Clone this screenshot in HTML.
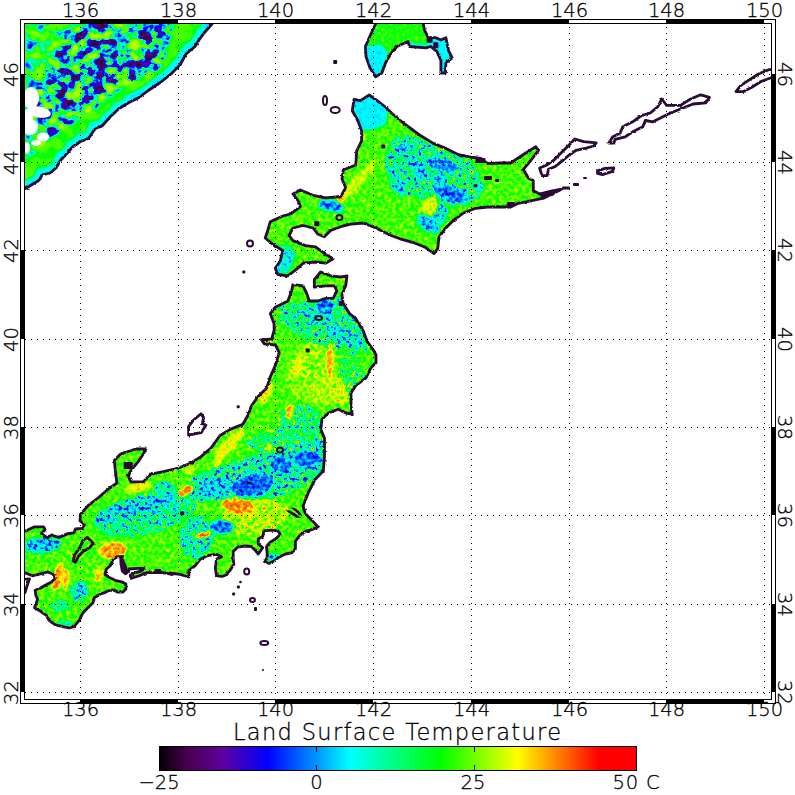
<!DOCTYPE html>
<html lang="en"><head><meta charset="utf-8"><title>Land Surface Temperature</title>
<style>
html,body{margin:0;padding:0;background:#fff;}
body{width:795px;height:795px;overflow:hidden;}
svg{display:block;}
text{font-family:"DejaVu Sans Light","DejaVu Sans","Liberation Sans",sans-serif;font-weight:200;fill:#000;stroke:#000;stroke-width:0.3px;}
</style></head><body>
<svg width="795" height="795" viewBox="0 0 795 795">
<defs>
<clipPath id="mapclip"><rect x="25" y="24" width="746" height="675"/></clipPath>
<clipPath id="land">
<polygon points="375.5,20.0 375.5,24.0 370.4,35.0 365.4,46.5 366.0,56.6 370.0,68.0 375.5,76.7 381.8,73.0 385.5,63.0 390.6,54.0 396.9,46.5 408.2,41.5 409.4,46.5 425.8,47.8 430.8,46.5 437.0,51.6 440.9,60.4 440.9,73.0 445.4,73.0 445.9,63.0 452.2,57.9 448.4,50.3 445.9,37.7 440.9,40.0 435.8,37.7 428.3,37.7 424.5,30.0 423.3,24.0 423.3,20.0"/>
<polygon points="354.0,99.4 360.4,100.6 369.2,95.0 375.5,99.4 385.5,107.0 391.8,113.2 400.6,120.8 410.7,128.3 420.8,135.8 433.3,143.4 445.9,148.4 458.5,154.7 471.0,157.2 481.1,158.5 487.4,163.5 500.6,163.0 510.7,163.0 518.2,158.0 525.8,153.0 535.8,146.7 538.4,150.4 530.8,160.5 523.3,169.3 528.3,178.0 533.3,180.6 533.3,190.7 540.9,194.5 553.5,190.7 561.0,189.4 551.0,194.5 543.4,198.2 530.8,200.8 518.2,203.3 510.7,207.0 500.6,207.0 488.0,207.0 475.5,208.3 462.9,213.3 452.8,220.9 445.3,228.4 439.0,237.2 437.7,248.6 434.0,253.6 425.2,247.3 412.6,242.3 400.0,238.8 391.0,235.5 375.9,228.0 363.3,223.0 350.8,224.2 340.7,226.7 330.6,230.5 324.3,236.8 318.0,234.3 313.0,228.0 303.0,225.5 292.9,228.0 289.1,235.5 292.9,240.6 305.5,245.6 315.5,246.9 325.6,254.4 333.1,258.7 325.6,263.2 315.5,262.0 303.0,263.2 297.9,268.2 287.9,275.8 277.8,274.5 275.3,268.2 280.3,260.7 282.8,250.6 272.8,244.3 265.2,238.0 267.7,230.5 270.3,221.7 282.8,216.0 290.4,214.0 300.4,206.6 297.9,200.3 292.9,194.0 300.4,190.0 313.0,195.3 325.6,197.8 340.7,196.5 345.7,187.7 342.0,179.0 343.2,170.0 355.8,165.0 356.6,151.0 361.6,140.9 361.6,130.8 357.9,120.8 352.3,110.7"/>
<polygon points="274.2,330.0 274.0,323.6 270.3,313.5 275.3,307.2 287.9,301.0 291.6,290.9 292.9,284.6 303.0,285.8 306.7,293.4 309.2,301.0 318.0,301.0 325.6,298.4 333.1,298.4 336.9,290.9 334.4,285.8 325.6,285.8 314.3,287.1 314.3,279.6 320.6,272.0 330.6,275.8 340.7,277.0 347.0,275.8 345.7,285.8 341.9,294.7 343.2,303.5 349.5,313.5 355.8,318.6 363.3,331.0 367.1,341.2 373.4,350.0 376.0,355.0 376.0,362.7 371.0,367.7 366.0,377.8 356.0,385.3 351.0,392.9 351.0,405.5 352.2,414.3 345.9,413.0 338.4,409.2 328.3,413.0 322.0,419.3 320.8,429.4 324.5,438.2 324.5,455.8 323.3,470.9 314.7,480.0 308.4,492.6 303.0,506.3 305.5,513.8 313.0,521.4 318.0,527.0 311.8,529.6 305.5,531.4 299.2,535.8 295.4,541.5 295.4,549.0 291.7,552.8 285.4,554.0 279.0,557.2 274.0,561.0 269.0,563.5 264.6,561.6 267.1,557.9 267.1,552.8 266.5,546.5 270.3,542.1 275.3,539.0 280.3,534.6 277.8,530.8 271.5,530.2 264.0,530.8 262.7,536.5 258.3,539.0 258.3,544.0 262.7,547.8 258.3,554.0 255.2,550.3 251.4,546.5 245.0,546.0 237.6,547.2 233.2,551.6 233.2,559.0 233.8,564.2 230.0,570.4 226.3,575.0 222.0,576.5 216.5,575.7 215.3,568.0 216.5,559.3 221.6,556.8 216.5,554.3 207.7,555.5 200.2,559.3 195.2,565.6 188.9,570.6 188.9,577.0 180.0,574.4 170.0,573.0 173.0,574.6 163.0,572.7 153.0,572.7 146.6,572.7 140.3,575.3 135.3,577.0 131.0,578.4 130.3,575.3 135.3,572.7 141.6,570.8 144.0,568.3 137.8,568.3 129.0,569.0 127.2,572.7 125.3,573.7 122.3,571.0 121.0,564.0 120.8,559.0 122.7,556.4 116.4,557.0 112.7,560.0 110.8,565.2 106.4,569.0 105.0,574.0 108.3,577.0 115.2,580.3 122.7,582.2 125.9,584.0 125.9,589.0 122.7,592.2 117.7,592.2 113.9,590.0 110.2,590.3 103.9,592.9 100.5,594.0 94.2,597.8 93.0,602.8 88.0,607.8 82.9,612.9 79.2,620.4 74.1,626.7 69.1,628.0 62.8,626.7 55.3,624.8 49.0,620.4 46.4,615.4 40.2,611.0 34.5,607.8 36.4,602.8 37.6,599.0 35.8,595.3 35.1,590.2 40.2,588.3 45.2,585.2 51.5,582.0 55.3,578.3 52.7,573.9 47.7,572.0 40.2,573.9 32.6,575.8 24.4,572.6 20.0,572.6 20.0,531.3 24.8,531.3 34.6,526.8 43.7,526.8 45.2,529.8 41.4,533.6 47.5,538.0 51.3,535.0 58.8,537.4 67.9,533.6 73.9,532.8 75.4,529.0 82.2,528.3 84.5,524.5 80.0,520.8 80.4,514.5 88.0,505.7 98.0,498.0 108.0,489.3 116.9,483.0 115.6,473.0 114.3,460.4 120.6,454.0 135.7,449.0 145.8,449.0 143.3,454.0 138.2,461.6 132.0,469.2 128.2,475.5 130.7,481.8 143.3,481.8 150.8,474.2 163.4,471.7 178.5,468.0 191.0,463.0 201.0,456.6 211.2,447.8 220.0,435.5 230.2,429.4 242.8,424.3 247.8,415.5 251.6,405.5 257.9,396.7 266.7,387.9 270.4,376.5 275.5,365.2 279.2,352.6 275.5,345.0 264.2,343.8 261.6,340.0 271.7,338.8"/>
</clipPath>
<clipPath id="rus"><polygon points="20.0,20.0 212.0,20.0 212.0,24.0 204.0,33.0 199.0,40.0 195.0,46.5 186.0,54.0 180.0,65.0 171.0,74.0 161.0,82.0 149.0,90.0 139.0,97.5 129.0,102.5 119.0,108.5 110.5,116.5 102.5,125.5 94.5,129.5 88.5,138.5 80.5,141.5 72.5,147.0 65.5,155.0 60.0,161.0 56.0,168.0 50.0,173.0 42.0,175.0 40.0,179.0 38.0,181.0 25.0,188.7 20.0,190.0"/></clipPath>
<filter id="jag" x="0" y="0" width="795" height="720" filterUnits="userSpaceOnUse"><feTurbulence type="fractalNoise" baseFrequency="0.35" numOctaves="1" seed="4" result="t"/><feDisplacementMap in="SourceGraphic" in2="t" scale="2.6" xChannelSelector="R" yChannelSelector="G"/></filter>
<filter id="cm" x="0" y="0" width="795" height="720" filterUnits="userSpaceOnUse" color-interpolation-filters="sRGB">
<feGaussianBlur in="SourceGraphic" stdDeviation="1.1" result="b"/>
<feColorMatrix in="b" type="matrix" values="1 0 0 0 0 1 0 0 0 0 1 0 0 0 0 0 0 0 0 1" result="T"/>
<feColorMatrix in="b" type="matrix" values="0 1 0 0 0 0 1 0 0 0 0 1 0 0 0 0 0 0 0 1" result="A"/>
<feTurbulence type="fractalNoise" baseFrequency="0.27" numOctaves="2" seed="7" result="n0"/>
<feColorMatrix in="n0" type="matrix" values="1 0 0 0 0 1 0 0 0 0 1 0 0 0 0 0 0 0 0 1" result="N"/>
<feComposite in="A" in2="N" operator="arithmetic" k1="1" k2="-0.5" k3="0" k4="0.5" result="D"/>
<feComposite in="T" in2="D" operator="arithmetic" k1="0" k2="1" k3="1.75" k4="-0.875" result="TT"/>
<feComponentTransfer in="TT"><feFuncR type="table" tableValues="0.000 0.064 0.128 0.193 0.257 0.287 0.304 0.321 0.338 0.355 0.372 0.322 0.268 0.215 0.162 0.108 0.055 0.001 0.000 0.000 0.000 0.000 0.000 0.000 0.000 0.000 0.000 0.000 0.000 0.000 0.000 0.000 0.000 0.000 0.000 0.000 0.000 0.000 0.000 0.000 0.000 0.000 0.000 0.000 0.000 0.063 0.146 0.229 0.313 0.396 0.479 0.563 0.646 0.729 0.812 0.896 0.979 1.000 1.000 1.000 1.000 1.000 1.000 1.000 1.000 1.000 1.000 1.000 1.000 1.000 1.000 1.000 1.000 1.000 1.000 1.000"/><feFuncG type="table" tableValues="0.000 0.000 0.000 0.000 0.000 0.000 0.000 0.000 0.000 0.000 0.000 0.000 0.000 0.000 0.000 0.000 0.000 0.000 0.074 0.150 0.227 0.303 0.379 0.455 0.531 0.608 0.686 0.765 0.843 0.922 1.000 1.000 1.000 1.000 1.000 1.000 1.000 1.000 1.000 1.000 1.000 1.000 1.000 1.000 1.000 1.000 1.000 1.000 1.000 1.000 1.000 1.000 1.000 1.000 1.000 1.000 1.000 0.941 0.863 0.785 0.707 0.629 0.551 0.472 0.394 0.315 0.236 0.157 0.079 0.000 0.000 0.000 0.000 0.000 0.000 0.000"/><feFuncB type="table" tableValues="0.000 0.069 0.138 0.206 0.275 0.336 0.394 0.451 0.509 0.567 0.625 0.678 0.732 0.785 0.838 0.892 0.945 0.999 1.000 1.000 1.000 1.000 1.000 1.000 1.000 1.000 1.000 1.000 1.000 1.000 1.000 0.929 0.859 0.788 0.718 0.647 0.576 0.506 0.436 0.366 0.296 0.227 0.157 0.087 0.017 0.000 0.000 0.000 0.000 0.000 0.000 0.000 0.000 0.000 0.000 0.000 0.000 0.000 0.000 0.000 0.000 0.000 0.000 0.000 0.000 0.000 0.000 0.000 0.000 0.000 0.000 0.000 0.000 0.000 0.000 0.000"/></feComponentTransfer>
</filter>
<filter id="cm2" x="0" y="0" width="795" height="720" filterUnits="userSpaceOnUse" color-interpolation-filters="sRGB">
<feGaussianBlur in="SourceGraphic" stdDeviation="0.9" result="b"/>
<feColorMatrix in="b" type="matrix" values="1 0 0 0 0 1 0 0 0 0 1 0 0 0 0 0 0 0 0 1" result="T"/>
<feColorMatrix in="b" type="matrix" values="0 1 0 0 0 0 1 0 0 0 0 1 0 0 0 0 0 0 0 1" result="A"/>
<feTurbulence type="fractalNoise" baseFrequency="0.085 0.1" numOctaves="3" seed="11" result="n0"/>
<feColorMatrix in="n0" type="matrix" values="1 0 0 0 0 1 0 0 0 0 1 0 0 0 0 0 0 0 0 1" result="N"/>
<feComposite in="A" in2="N" operator="arithmetic" k1="1" k2="-0.5" k3="0" k4="0.5" result="D"/>
<feComposite in="T" in2="D" operator="arithmetic" k1="0" k2="1" k3="2.5" k4="-1.25" result="TT"/>
<feComponentTransfer in="TT"><feFuncR type="table" tableValues="0.241 0.277 0.288 0.300 0.311 0.322 0.334 0.345 0.356 0.367 0.353 0.317 0.282 0.246 0.211 0.175 0.139 0.104 0.068 0.032 0.000 0.000 0.000 0.000 0.000 0.000 0.000 0.000 0.000 0.000 0.000 0.000 0.000 0.000 0.000 0.000 0.000 0.000 0.000 0.000 0.000 0.000 0.000 0.000 0.000 0.010 0.117 0.223 0.262 0.278 0.293 0.309 0.325 0.341 0.356 0.372 0.388 0.404 0.419 0.435 0.451 0.467 0.483 0.498 0.514 0.530 0.546 0.561 0.577 0.593 0.609 0.624 0.640 0.656 0.672 0.687"/><feFuncG type="table" tableValues="0.000 0.000 0.000 0.000 0.000 0.000 0.000 0.000 0.000 0.000 0.000 0.000 0.000 0.000 0.000 0.000 0.000 0.000 0.000 0.000 0.004 0.055 0.106 0.169 0.246 0.322 0.398 0.474 0.550 0.627 0.706 0.784 0.863 0.941 1.000 1.000 1.000 1.000 1.000 1.000 1.000 1.000 1.000 1.000 1.000 1.000 1.000 1.000 1.000 1.000 1.000 1.000 1.000 1.000 1.000 1.000 1.000 1.000 1.000 1.000 1.000 1.000 1.000 1.000 1.000 1.000 1.000 1.000 1.000 1.000 1.000 1.000 1.000 1.000 1.000 1.000"/><feFuncB type="table" tableValues="0.258 0.302 0.341 0.379 0.418 0.456 0.495 0.533 0.572 0.610 0.647 0.683 0.718 0.754 0.789 0.825 0.861 0.896 0.932 0.968 1.000 1.000 1.000 1.000 1.000 1.000 1.000 1.000 1.000 1.000 1.000 1.000 1.000 1.000 0.977 0.887 0.797 0.707 0.617 0.526 0.437 0.348 0.259 0.169 0.080 0.000 0.000 0.000 0.000 0.000 0.000 0.000 0.000 0.000 0.000 0.000 0.000 0.000 0.000 0.000 0.000 0.000 0.000 0.000 0.000 0.000 0.000 0.000 0.000 0.000 0.000 0.000 0.000 0.000 0.000 0.000"/></feComponentTransfer>
</filter>
<linearGradient id="bar" x1="0" y1="0" x2="1" y2="0">
<stop offset="0.0" stop-color="rgb(0,0,0)"/>
<stop offset="0.057" stop-color="rgb(70,0,75)"/>
<stop offset="0.134" stop-color="rgb(95,0,160)"/>
<stop offset="0.227" stop-color="rgb(0,0,255)"/>
<stop offset="0.33" stop-color="rgb(0,150,255)"/>
<stop offset="0.4" stop-color="rgb(0,255,255)"/>
<stop offset="0.5" stop-color="rgb(0,255,120)"/>
<stop offset="0.59" stop-color="rgb(0,255,0)"/>
<stop offset="0.75" stop-color="rgb(255,255,0)"/>
<stop offset="0.835" stop-color="rgb(255,128,0)"/>
<stop offset="0.92" stop-color="rgb(255,0,0)"/>
<stop offset="1.0" stop-color="rgb(255,0,0)"/>
</linearGradient></defs>
<rect width="795" height="795" fill="#fff"/>
<g clip-path="url(#mapclip)">
<g clip-path="url(#land)"><g filter="url(#cm)">
<rect x="0" y="0" width="795" height="720" fill="rgb(161,43,0)"/>
<polygon points="375.5,20.0 375.5,24.0 370.4,35.0 365.4,46.5 366.0,56.6 370.0,68.0 375.5,76.7 381.8,73.0 385.5,63.0 390.6,54.0 396.9,46.5 408.2,41.5 409.4,46.5 425.8,47.8 430.8,46.5 437.0,51.6 440.9,60.4 440.9,73.0 445.4,73.0 445.9,63.0 452.2,57.9 448.4,50.3 445.9,37.7 440.9,40.0 435.8,37.7 428.3,37.7 424.5,30.0 423.3,24.0 423.3,20.0" fill="rgb(153,38,0)"/>
<polygon points="364.0,47.0 380.0,44.0 388.0,52.0 384.0,66.0 377.0,78.0 368.0,70.0" fill="rgb(100,10,0)"/>
<polygon points="426.0,40.0 450.0,36.0 454.0,58.0 447.0,64.0 446.0,74.0 440.0,74.0 440.0,56.0 430.0,48.0" fill="rgb(102,13,0)"/>
<polygon points="408.0,42.0 432.0,46.0 432.0,50.0 408.0,49.0" fill="rgb(105,26,0)"/>
<polygon points="350.0,96.0 372.0,94.0 388.0,110.0 386.0,124.0 372.0,130.0 358.0,130.0" fill="rgb(100,10,0)"/>
<ellipse cx="437" cy="173" rx="48" ry="30" transform="rotate(25 437 173)" fill="rgb(129,140,0)"/>
<ellipse cx="408" cy="165" rx="22" ry="30" transform="rotate(-10 408 165)" fill="rgb(122,140,0)"/>
<ellipse cx="443" cy="165" rx="16" ry="6" transform="rotate(12 443 165)" fill="rgb(78,56,0)"/>
<ellipse cx="451" cy="194" rx="18" ry="7.5" transform="rotate(18 451 194)" fill="rgb(78,56,0)"/>
<ellipse cx="440" cy="180" rx="9" ry="5" transform="rotate(40 440 180)" fill="rgb(95,89,0)"/>
<ellipse cx="480" cy="187" rx="5" ry="4" transform="rotate(0 480 187)" fill="rgb(99,89,0)"/>
<ellipse cx="420" cy="170" rx="7" ry="12" transform="rotate(-25 420 170)" fill="rgb(95,102,0)"/>
<ellipse cx="404" cy="150" rx="9" ry="7" transform="rotate(0 404 150)" fill="rgb(95,102,0)"/>
<ellipse cx="398" cy="185" rx="7" ry="12" transform="rotate(-20 398 185)" fill="rgb(102,102,0)"/>
<ellipse cx="428" cy="224" rx="13" ry="7" transform="rotate(35 428 224)" fill="rgb(92,89,0)"/>
<ellipse cx="440" cy="215" rx="8" ry="10" transform="rotate(30 440 215)" fill="rgb(105,102,0)"/>
<ellipse cx="430" cy="206" rx="8" ry="10" transform="rotate(20 430 206)" fill="rgb(185,38,0)"/>
<ellipse cx="357" cy="182" rx="28" ry="5.5" transform="rotate(-48 357 182)" fill="rgb(182,31,0)"/>
<ellipse cx="341" cy="200" rx="3" ry="3" transform="rotate(0 341 200)" fill="rgb(207,51,0)"/>
<ellipse cx="331" cy="206" rx="13" ry="5.5" transform="rotate(10 331 206)" fill="rgb(82,64,0)"/>
<ellipse cx="283" cy="260" rx="11" ry="15" transform="rotate(25 283 260)" fill="rgb(107,64,0)"/>
<ellipse cx="303" cy="234" rx="14" ry="4" transform="rotate(-20 303 234)" fill="rgb(122,102,0)"/>
<polygon points="279.6,305.0 340.0,297.0 372.0,335.0 368.0,352.0 316.0,348.0 279.6,322.0" fill="rgb(126,140,0)"/>
<ellipse cx="352" cy="372" rx="12" ry="22" transform="rotate(-10 352 372)" fill="rgb(143,115,0)"/>
<ellipse cx="312" cy="372" rx="26" ry="30" transform="rotate(0 312 372)" fill="rgb(172,51,0)"/>
<ellipse cx="328" cy="390" rx="18" ry="14" transform="rotate(-20 328 390)" fill="rgb(178,51,0)"/>
<ellipse cx="300" cy="425" rx="22" ry="21" transform="rotate(0 300 425)" fill="rgb(133,128,0)"/>
<polygon points="189.0,478.0 240.0,460.0 300.0,436.0 325.0,438.0 325.0,474.0 282.0,496.0 230.0,501.0 190.0,501.0" fill="rgb(116,153,0)"/>
<ellipse cx="278" cy="440" rx="32" ry="9" transform="rotate(-8 278 440)" fill="rgb(133,128,0)"/>
<ellipse cx="255" cy="517" rx="34" ry="17" transform="rotate(-8 255 517)" fill="rgb(178,64,0)"/>
<ellipse cx="145" cy="514" rx="52" ry="20" transform="rotate(-12 145 514)" fill="rgb(126,128,0)"/>
<ellipse cx="164" cy="503" rx="15" ry="22" transform="rotate(0 164 503)" fill="rgb(116,128,0)"/>
<ellipse cx="197" cy="537" rx="17" ry="21" transform="rotate(10 197 537)" fill="rgb(116,128,0)"/>
<ellipse cx="42" cy="545" rx="19" ry="8" transform="rotate(-5 42 545)" fill="rgb(102,115,0)"/>
<ellipse cx="79" cy="592" rx="9" ry="10" transform="rotate(30 79 592)" fill="rgb(116,128,0)"/>
<ellipse cx="325" cy="306" rx="9" ry="7" transform="rotate(-20 325 306)" fill="rgb(78,51,0)"/>
<ellipse cx="318" cy="315" rx="18" ry="6" transform="rotate(15 318 315)" fill="rgb(102,102,0)"/>
<ellipse cx="345" cy="336" rx="20" ry="7" transform="rotate(25 345 336)" fill="rgb(102,102,0)"/>
<ellipse cx="307" cy="459" rx="14" ry="7.5" transform="rotate(-5 307 459)" fill="rgb(75,51,0)"/>
<ellipse cx="281" cy="464" rx="10" ry="9" transform="rotate(0 281 464)" fill="rgb(78,51,0)"/>
<ellipse cx="252" cy="485" rx="22" ry="10" transform="rotate(-12 252 485)" fill="rgb(75,51,0)"/>
<ellipse cx="214" cy="488" rx="17" ry="9" transform="rotate(-10 214 488)" fill="rgb(95,102,0)"/>
<ellipse cx="222" cy="527" rx="12" ry="7" transform="rotate(5 222 527)" fill="rgb(78,51,0)"/>
<ellipse cx="133" cy="509" rx="40" ry="8.5" transform="rotate(-14 133 509)" fill="rgb(99,115,0)"/>
<ellipse cx="165" cy="499" rx="10" ry="5" transform="rotate(-20 165 499)" fill="rgb(99,102,0)"/>
<ellipse cx="105" cy="520" rx="10" ry="5" transform="rotate(-10 105 520)" fill="rgb(102,102,0)"/>
<ellipse cx="40" cy="544" rx="13" ry="5" transform="rotate(-8 40 544)" fill="rgb(88,89,0)"/>
<ellipse cx="80" cy="590" rx="4" ry="9" transform="rotate(30 80 590)" fill="rgb(95,89,0)"/>
<ellipse cx="60" cy="606" rx="9" ry="5" transform="rotate(0 60 606)" fill="rgb(119,128,0)"/>
<ellipse cx="65" cy="623" rx="8" ry="3" transform="rotate(0 65 623)" fill="rgb(119,76,0)"/>
<ellipse cx="274" cy="557" rx="6" ry="5" transform="rotate(0 274 557)" fill="rgb(105,102,0)"/>
<ellipse cx="298" cy="366" rx="4" ry="12" transform="rotate(10 298 366)" fill="rgb(190,31,0)"/>
<ellipse cx="330" cy="361" rx="3" ry="19" transform="rotate(2 330 361)" fill="rgb(207,31,0)"/>
<ellipse cx="289.5" cy="411.5" rx="3.5" ry="7.5" transform="rotate(15 289.5 411.5)" fill="rgb(211,31,0)"/>
<ellipse cx="340" cy="395" rx="8" ry="10" transform="rotate(-20 340 395)" fill="rgb(184,51,0)"/>
<ellipse cx="266" cy="394" rx="4.5" ry="12" transform="rotate(28 266 394)" fill="rgb(190,38,0)"/>
<ellipse cx="230" cy="444" rx="6" ry="20" transform="rotate(42 230 444)" fill="rgb(187,38,0)"/>
<ellipse cx="220" cy="455" rx="4" ry="14" transform="rotate(20 220 455)" fill="rgb(189,31,0)"/>
<ellipse cx="269" cy="448" rx="3.5" ry="5" transform="rotate(0 269 448)" fill="rgb(190,31,0)"/>
<ellipse cx="190" cy="470" rx="5" ry="5" transform="rotate(0 190 470)" fill="rgb(187,38,0)"/>
<ellipse cx="238" cy="506" rx="17" ry="7.5" transform="rotate(8 238 506)" fill="rgb(211,38,0)"/>
<ellipse cx="186" cy="491" rx="9" ry="4" transform="rotate(-35 186 491)" fill="rgb(214,31,0)"/>
<ellipse cx="203" cy="535" rx="9" ry="3" transform="rotate(-10 203 535)" fill="rgb(211,31,0)"/>
<ellipse cx="113" cy="550" rx="14" ry="8" transform="rotate(-10 113 550)" fill="rgb(207,38,0)"/>
<ellipse cx="138" cy="487" rx="14" ry="4.5" transform="rotate(-12 138 487)" fill="rgb(190,38,0)"/>
<ellipse cx="58" cy="577" rx="4.5" ry="15" transform="rotate(14 58 577)" fill="rgb(207,38,0)"/>
<ellipse cx="66" cy="579" rx="3" ry="11" transform="rotate(5 66 579)" fill="rgb(204,38,0)"/>
<ellipse cx="99" cy="574" rx="5" ry="10" transform="rotate(15 99 574)" fill="rgb(187,51,0)"/>
</g></g>
<g clip-path="url(#rus)"><g filter="url(#cm2)">
<rect x="0" y="0" width="795" height="720" fill="rgb(161,22,0)"/>
<polygon points="25.0,24.0 70.0,24.0 55.0,55.0 40.0,75.0 34.0,95.0 38.0,120.0 50.0,140.0 25.0,160.0" fill="rgb(158,107,0)"/>
<polygon points="70.0,24.0 174.0,24.0 169.0,45.0 161.0,67.0 146.0,77.0 126.0,85.0 109.0,97.0 94.0,109.0 79.0,119.0 63.0,129.0 50.0,138.0 38.0,120.0 34.0,95.0 40.0,75.0 55.0,55.0" fill="rgb(114,230,0)"/>
<polyline points="212.0,20.0 212.0,24.0 204.0,33.0 199.0,40.0 195.0,46.5 186.0,54.0 180.0,65.0 171.0,74.0 161.0,82.0 149.0,90.0 139.0,97.5 129.0,102.5 119.0,108.5 110.5,116.5 102.5,125.5 94.5,129.5 88.5,138.5 80.5,141.5 72.5,147.0 65.5,155.0 60.0,161.0 56.0,168.0 50.0,173.0 42.0,175.0 40.0,179.0 38.0,181.0 25.0,188.7" fill="none" stroke="rgb(116,10,0)" stroke-width="14" stroke-linejoin="round"/>
</g></g>
<ellipse cx="31" cy="98" rx="8" ry="11" transform="rotate(0 31 98)" fill="#fff"/>
<ellipse cx="39" cy="112" rx="12" ry="5.5" transform="rotate(10 39 112)" fill="#fff"/>
<ellipse cx="30" cy="127" rx="8" ry="8" transform="rotate(0 30 127)" fill="#fff"/>
<ellipse cx="43" cy="137" rx="6" ry="4.5" transform="rotate(0 43 137)" fill="#fff"/>
<ellipse cx="28" cy="116" rx="5" ry="7" transform="rotate(0 28 116)" fill="#fff"/>
<ellipse cx="36" cy="143" rx="5" ry="3" transform="rotate(0 36 143)" fill="#fff"/>
<ellipse cx="27" cy="148" rx="3" ry="6" transform="rotate(0 27 148)" fill="#fff"/>
<g fill="none" stroke="#2c0836" stroke-width="2.8" stroke-linejoin="round" filter="url(#jag)">
<polygon points="20.0,20.0 212.0,20.0 212.0,24.0 204.0,33.0 199.0,40.0 195.0,46.5 186.0,54.0 180.0,65.0 171.0,74.0 161.0,82.0 149.0,90.0 139.0,97.5 129.0,102.5 119.0,108.5 110.5,116.5 102.5,125.5 94.5,129.5 88.5,138.5 80.5,141.5 72.5,147.0 65.5,155.0 60.0,161.0 56.0,168.0 50.0,173.0 42.0,175.0 40.0,179.0 38.0,181.0 25.0,188.7 20.0,190.0"/>
<polygon points="375.5,20.0 375.5,24.0 370.4,35.0 365.4,46.5 366.0,56.6 370.0,68.0 375.5,76.7 381.8,73.0 385.5,63.0 390.6,54.0 396.9,46.5 408.2,41.5 409.4,46.5 425.8,47.8 430.8,46.5 437.0,51.6 440.9,60.4 440.9,73.0 445.4,73.0 445.9,63.0 452.2,57.9 448.4,50.3 445.9,37.7 440.9,40.0 435.8,37.7 428.3,37.7 424.5,30.0 423.3,24.0 423.3,20.0"/>
<polygon points="354.0,99.4 360.4,100.6 369.2,95.0 375.5,99.4 385.5,107.0 391.8,113.2 400.6,120.8 410.7,128.3 420.8,135.8 433.3,143.4 445.9,148.4 458.5,154.7 471.0,157.2 481.1,158.5 487.4,163.5 500.6,163.0 510.7,163.0 518.2,158.0 525.8,153.0 535.8,146.7 538.4,150.4 530.8,160.5 523.3,169.3 528.3,178.0 533.3,180.6 533.3,190.7 540.9,194.5 553.5,190.7 561.0,189.4 551.0,194.5 543.4,198.2 530.8,200.8 518.2,203.3 510.7,207.0 500.6,207.0 488.0,207.0 475.5,208.3 462.9,213.3 452.8,220.9 445.3,228.4 439.0,237.2 437.7,248.6 434.0,253.6 425.2,247.3 412.6,242.3 400.0,238.8 391.0,235.5 375.9,228.0 363.3,223.0 350.8,224.2 340.7,226.7 330.6,230.5 324.3,236.8 318.0,234.3 313.0,228.0 303.0,225.5 292.9,228.0 289.1,235.5 292.9,240.6 305.5,245.6 315.5,246.9 325.6,254.4 333.1,258.7 325.6,263.2 315.5,262.0 303.0,263.2 297.9,268.2 287.9,275.8 277.8,274.5 275.3,268.2 280.3,260.7 282.8,250.6 272.8,244.3 265.2,238.0 267.7,230.5 270.3,221.7 282.8,216.0 290.4,214.0 300.4,206.6 297.9,200.3 292.9,194.0 300.4,190.0 313.0,195.3 325.6,197.8 340.7,196.5 345.7,187.7 342.0,179.0 343.2,170.0 355.8,165.0 356.6,151.0 361.6,140.9 361.6,130.8 357.9,120.8 352.3,110.7"/>
<polygon points="274.2,330.0 274.0,323.6 270.3,313.5 275.3,307.2 287.9,301.0 291.6,290.9 292.9,284.6 303.0,285.8 306.7,293.4 309.2,301.0 318.0,301.0 325.6,298.4 333.1,298.4 336.9,290.9 334.4,285.8 325.6,285.8 314.3,287.1 314.3,279.6 320.6,272.0 330.6,275.8 340.7,277.0 347.0,275.8 345.7,285.8 341.9,294.7 343.2,303.5 349.5,313.5 355.8,318.6 363.3,331.0 367.1,341.2 373.4,350.0 376.0,355.0 376.0,362.7 371.0,367.7 366.0,377.8 356.0,385.3 351.0,392.9 351.0,405.5 352.2,414.3 345.9,413.0 338.4,409.2 328.3,413.0 322.0,419.3 320.8,429.4 324.5,438.2 324.5,455.8 323.3,470.9 314.7,480.0 308.4,492.6 303.0,506.3 305.5,513.8 313.0,521.4 318.0,527.0 311.8,529.6 305.5,531.4 299.2,535.8 295.4,541.5 295.4,549.0 291.7,552.8 285.4,554.0 279.0,557.2 274.0,561.0 269.0,563.5 264.6,561.6 267.1,557.9 267.1,552.8 266.5,546.5 270.3,542.1 275.3,539.0 280.3,534.6 277.8,530.8 271.5,530.2 264.0,530.8 262.7,536.5 258.3,539.0 258.3,544.0 262.7,547.8 258.3,554.0 255.2,550.3 251.4,546.5 245.0,546.0 237.6,547.2 233.2,551.6 233.2,559.0 233.8,564.2 230.0,570.4 226.3,575.0 222.0,576.5 216.5,575.7 215.3,568.0 216.5,559.3 221.6,556.8 216.5,554.3 207.7,555.5 200.2,559.3 195.2,565.6 188.9,570.6 188.9,577.0 180.0,574.4 170.0,573.0 173.0,574.6 163.0,572.7 153.0,572.7 146.6,572.7 140.3,575.3 135.3,577.0 131.0,578.4 130.3,575.3 135.3,572.7 141.6,570.8 144.0,568.3 137.8,568.3 129.0,569.0 127.2,572.7 125.3,573.7 122.3,571.0 121.0,564.0 120.8,559.0 122.7,556.4 116.4,557.0 112.7,560.0 110.8,565.2 106.4,569.0 105.0,574.0 108.3,577.0 115.2,580.3 122.7,582.2 125.9,584.0 125.9,589.0 122.7,592.2 117.7,592.2 113.9,590.0 110.2,590.3 103.9,592.9 100.5,594.0 94.2,597.8 93.0,602.8 88.0,607.8 82.9,612.9 79.2,620.4 74.1,626.7 69.1,628.0 62.8,626.7 55.3,624.8 49.0,620.4 46.4,615.4 40.2,611.0 34.5,607.8 36.4,602.8 37.6,599.0 35.8,595.3 35.1,590.2 40.2,588.3 45.2,585.2 51.5,582.0 55.3,578.3 52.7,573.9 47.7,572.0 40.2,573.9 32.6,575.8 24.4,572.6 20.0,572.6 20.0,531.3 24.8,531.3 34.6,526.8 43.7,526.8 45.2,529.8 41.4,533.6 47.5,538.0 51.3,535.0 58.8,537.4 67.9,533.6 73.9,532.8 75.4,529.0 82.2,528.3 84.5,524.5 80.0,520.8 80.4,514.5 88.0,505.7 98.0,498.0 108.0,489.3 116.9,483.0 115.6,473.0 114.3,460.4 120.6,454.0 135.7,449.0 145.8,449.0 143.3,454.0 138.2,461.6 132.0,469.2 128.2,475.5 130.7,481.8 143.3,481.8 150.8,474.2 163.4,471.7 178.5,468.0 191.0,463.0 201.0,456.6 211.2,447.8 220.0,435.5 230.2,429.4 242.8,424.3 247.8,415.5 251.6,405.5 257.9,396.7 266.7,387.9 270.4,376.5 275.5,365.2 279.2,352.6 275.5,345.0 264.2,343.8 261.6,340.0 271.7,338.8"/>
<polygon points="73.2,560.8 74.7,554.7 80.0,547.2 83.7,539.6 87.5,537.4 93.5,543.4 89.0,548.0 83.0,551.7 78.4,556.3 75.4,562.3"/>
<polygon points="188.6,435.2 188.6,426.4 193.6,420.0 201.0,413.8 203.6,417.6 202.4,423.9 206.0,425.0 201.0,432.7 193.6,434.0"/>
<polygon points="539.6,168.0 545.9,165.5 553.5,160.5 561.0,153.0 568.6,145.4 574.8,139.0 583.6,141.6 596.2,142.9 593.7,146.0 586.2,148.0 576.0,150.4 568.6,155.5 561.0,161.8 554.7,166.8 548.4,169.3 547.2,175.6 542.0,175.6"/>
<polygon points="608.8,143.0 612.6,136.9 620.2,133.0 622.7,126.8 632.7,121.8 641.5,115.5 650.3,113.0 657.9,106.7 661.7,99.0 666.7,105.4 680.5,105.4 690.6,99.0 700.7,94.8 709.5,97.4 705.7,102.9 693.1,104.0 683.0,108.0 670.5,113.0 660.4,118.0 652.9,121.8 645.3,120.5 642.8,126.8 632.7,131.8 625.2,136.9 615.0,139.4 613.9,143.0"/>
<polygon points="735.9,91.6 740.9,85.3 748.5,80.3 758.5,74.0 768.6,69.7 776.0,69.7 776.0,77.7 771.0,77.7 761.0,81.5 751.0,87.8 743.4,91.6"/>
<polygon points="597.5,170.8 605.0,168.3 613.9,167.8 612.6,171.3 602.5,174.6 597.5,173.3"/>
<polygon points="20.0,579.5 29.5,578.8 27.0,586.0 25.0,592.5 20.0,593.0"/>
</g>
<g fill="#2c0836">
<rect x="426.6" y="37.8" width="6" height="5" rx="1"/>
<rect x="433.3" y="42.3" width="5" height="6" rx="1"/>
<rect x="333.2" y="60.0" width="4" height="4" rx="1"/>
<rect x="507.0" y="202.0" width="8" height="4" rx="1"/>
<polygon points="538,193 550,190 562,188 552,196 542,198"/>
<rect x="484.0" y="176.0" width="8" height="4" rx="1"/>
<rect x="495.0" y="179.1" width="4" height="3" rx="1"/>
<rect x="473.5" y="184.2" width="4" height="3" rx="1"/>
<rect x="475.5" y="158.0" width="10" height="5" rx="1"/>
<rect x="459.1" y="154.0" width="5" height="3" rx="1"/>
<rect x="381.3" y="144.5" width="4" height="4" rx="1"/>
<rect x="314.3" y="221.2" width="5" height="5" rx="1"/>
<ellipse cx="339.4" cy="217.4" rx="3" ry="2.5" fill="none" stroke="#2c0836" stroke-width="2"/>
<rect x="305.7" y="348.6" width="4" height="4" rx="1"/>
<ellipse cx="280" cy="450" rx="3" ry="2.5" fill="none" stroke="#2c0836" stroke-width="2"/>
<rect x="246.5" y="481.5" width="5" height="3" rx="1"/>
<rect x="123.7" y="461.9" width="9" height="7" rx="1"/>
<rect x="154.4" y="569.1" width="7" height="5" rx="1"/>
<rect x="180.2" y="511.2" width="4" height="4" rx="1"/>
<polygon points="121,559 123.5,558.5 127.5,568 127,573 124.5,574 122,570"/>
<rect x="338.7" y="301.0" width="4" height="5" rx="1"/>
<ellipse cx="318.6" cy="318" rx="3.5" ry="2" fill="none" stroke="#2c0836" stroke-width="2"/>
<polygon points="285.4,510.5 289,510.3 296,514 300.8,518 296,517.5 290,513.5"/>
<polygon points="290.4,507.8 294,507.5 299,511 302.5,516 299,515 295,511"/>
<ellipse cx="250" cy="243.6" rx="3" ry="3" fill="none" stroke="#2c0836" stroke-width="2"/>
<rect x="242.3" y="270.5" width="3" height="3" rx="1"/>
<rect x="236.7" y="405.2" width="3" height="3" rx="1"/>
<ellipse cx="325" cy="100.6" rx="2" ry="4.5" fill="none" stroke="#2c0836" stroke-width="2"/>
<ellipse cx="335.2" cy="110" rx="4.5" ry="3" fill="none" stroke="#2c0836" stroke-width="2"/>
<ellipse cx="246.7" cy="571.4" rx="2.5" ry="3" fill="none" stroke="#2c0836" stroke-width="2"/>
<rect x="239.2" y="580.8" width="2.5" height="2.5" rx="1"/>
<rect x="236.9" y="585.5" width="3" height="3" rx="1"/>
<rect x="232.1" y="592.5" width="3" height="3" rx="1"/>
<ellipse cx="252.5" cy="600" rx="2.5" ry="2" fill="none" stroke="#2c0836" stroke-width="2"/>
<rect x="254.0" y="606.9" width="3" height="4" rx="1"/>
<ellipse cx="264.3" cy="643" rx="4" ry="2" fill="none" stroke="#2c0836" stroke-width="2"/>
<rect x="262.0" y="669.0" width="2" height="2" rx="1"/>
<rect x="562.0" y="186.5" width="8" height="3" rx="1"/>
<rect x="573.0" y="182.9" width="6" height="3" rx="1"/>
<rect x="583.0" y="177.0" width="4" height="2" rx="1"/>
</g>
<g stroke="#000" stroke-width="1" stroke-dasharray="1 5" shape-rendering="crispEdges">
<line x1="80.5" y1="700" x2="80.5" y2="24"/>
<line x1="178.5" y1="700" x2="178.5" y2="24"/>
<line x1="275.5" y1="700" x2="275.5" y2="24"/>
<line x1="373.5" y1="700" x2="373.5" y2="24"/>
<line x1="471.5" y1="700" x2="471.5" y2="24"/>
<line x1="569.5" y1="700" x2="569.5" y2="24"/>
<line x1="666.5" y1="700" x2="666.5" y2="24"/>
<line x1="764.5" y1="700" x2="764.5" y2="24"/>
<line x1="25" y1="74.5" x2="771" y2="74.5"/>
<line x1="25" y1="162.5" x2="771" y2="162.5"/>
<line x1="25" y1="250.5" x2="771" y2="250.5"/>
<line x1="25" y1="339.5" x2="771" y2="339.5"/>
<line x1="25" y1="427.5" x2="771" y2="427.5"/>
<line x1="25" y1="515.5" x2="771" y2="515.5"/>
<line x1="25" y1="604.5" x2="771" y2="604.5"/>
<line x1="25" y1="692.5" x2="771" y2="692.5"/>
</g>
</g>
<g shape-rendering="crispEdges">
<rect x="20.5" y="19.5" width="755" height="684" fill="none" stroke="#000"/>
<rect x="24.5" y="23.5" width="747" height="676" fill="none" stroke="#000"/>
<rect x="80" y="19" width="98" height="5" fill="#000"/>
<rect x="80" y="699" width="98" height="5" fill="#000"/>
<rect x="275" y="19" width="98" height="5" fill="#000"/>
<rect x="275" y="699" width="98" height="5" fill="#000"/>
<rect x="471" y="19" width="98" height="5" fill="#000"/>
<rect x="471" y="699" width="98" height="5" fill="#000"/>
<rect x="666" y="19" width="98" height="5" fill="#000"/>
<rect x="666" y="699" width="98" height="5" fill="#000"/>
<rect x="20" y="74" width="5" height="88" fill="#000"/>
<rect x="771" y="74" width="5" height="88" fill="#000"/>
<rect x="20" y="250" width="5" height="89" fill="#000"/>
<rect x="771" y="250" width="5" height="89" fill="#000"/>
<rect x="20" y="427" width="5" height="88" fill="#000"/>
<rect x="771" y="427" width="5" height="88" fill="#000"/>
<rect x="20" y="604" width="5" height="88" fill="#000"/>
<rect x="771" y="604" width="5" height="88" fill="#000"/>
</g>
<g font-size="19.5" text-anchor="middle">
<text x="80.5" y="16.5">136</text>
<text x="80.5" y="715.5">136</text>
<text x="178.5" y="16.5">138</text>
<text x="178.5" y="715.5">138</text>
<text x="275.5" y="16.5">140</text>
<text x="275.5" y="715.5">140</text>
<text x="373.5" y="16.5">142</text>
<text x="373.5" y="715.5">142</text>
<text x="471.5" y="16.5">144</text>
<text x="471.5" y="715.5">144</text>
<text x="569.5" y="16.5">146</text>
<text x="569.5" y="715.5">146</text>
<text x="666.5" y="16.5">148</text>
<text x="666.5" y="715.5">148</text>
<text x="764.5" y="16.5">150</text>
<text x="764.5" y="715.5">150</text>
<text transform="translate(18 74.5) rotate(-90)">46</text>
<text transform="translate(777.5 74.5) rotate(90)">46</text>
<text transform="translate(18 162.5) rotate(-90)">44</text>
<text transform="translate(777.5 162.5) rotate(90)">44</text>
<text transform="translate(18 250.5) rotate(-90)">42</text>
<text transform="translate(777.5 250.5) rotate(90)">42</text>
<text transform="translate(18 339.5) rotate(-90)">40</text>
<text transform="translate(777.5 339.5) rotate(90)">40</text>
<text transform="translate(18 427.5) rotate(-90)">38</text>
<text transform="translate(777.5 427.5) rotate(90)">38</text>
<text transform="translate(18 515.5) rotate(-90)">36</text>
<text transform="translate(777.5 515.5) rotate(90)">36</text>
<text transform="translate(18 604.5) rotate(-90)">34</text>
<text transform="translate(777.5 604.5) rotate(90)">34</text>
<text transform="translate(18 692.5) rotate(-90)">32</text>
<text transform="translate(777.5 692.5) rotate(90)">32</text>
</g>
<text x="233" y="740" font-size="22.5" textLength="328" lengthAdjust="spacing">Land Surface Temperature</text>
<rect x="159" y="746" width="478" height="25" fill="url(#bar)"/>
<rect x="159.5" y="746.5" width="477" height="24" fill="none" stroke="#000" shape-rendering="crispEdges"/>
<g stroke="#000" shape-rendering="crispEdges">
<line x1="316.5" y1="746" x2="316.5" y2="752"/><line x1="316.5" y1="765" x2="316.5" y2="771"/>
<line x1="474.5" y1="746" x2="474.5" y2="752"/><line x1="474.5" y1="765" x2="474.5" y2="771"/>
</g>
<g font-size="19.5" text-anchor="middle">
<text x="159" y="788.5">−25</text>
<text x="316.5" y="788.5">0</text>
<text x="473" y="788.5">25</text>
<text x="612.5" y="788.5" text-anchor="start" textLength="47" lengthAdjust="spacing">50 C</text>
</g>
</svg></body></html>
